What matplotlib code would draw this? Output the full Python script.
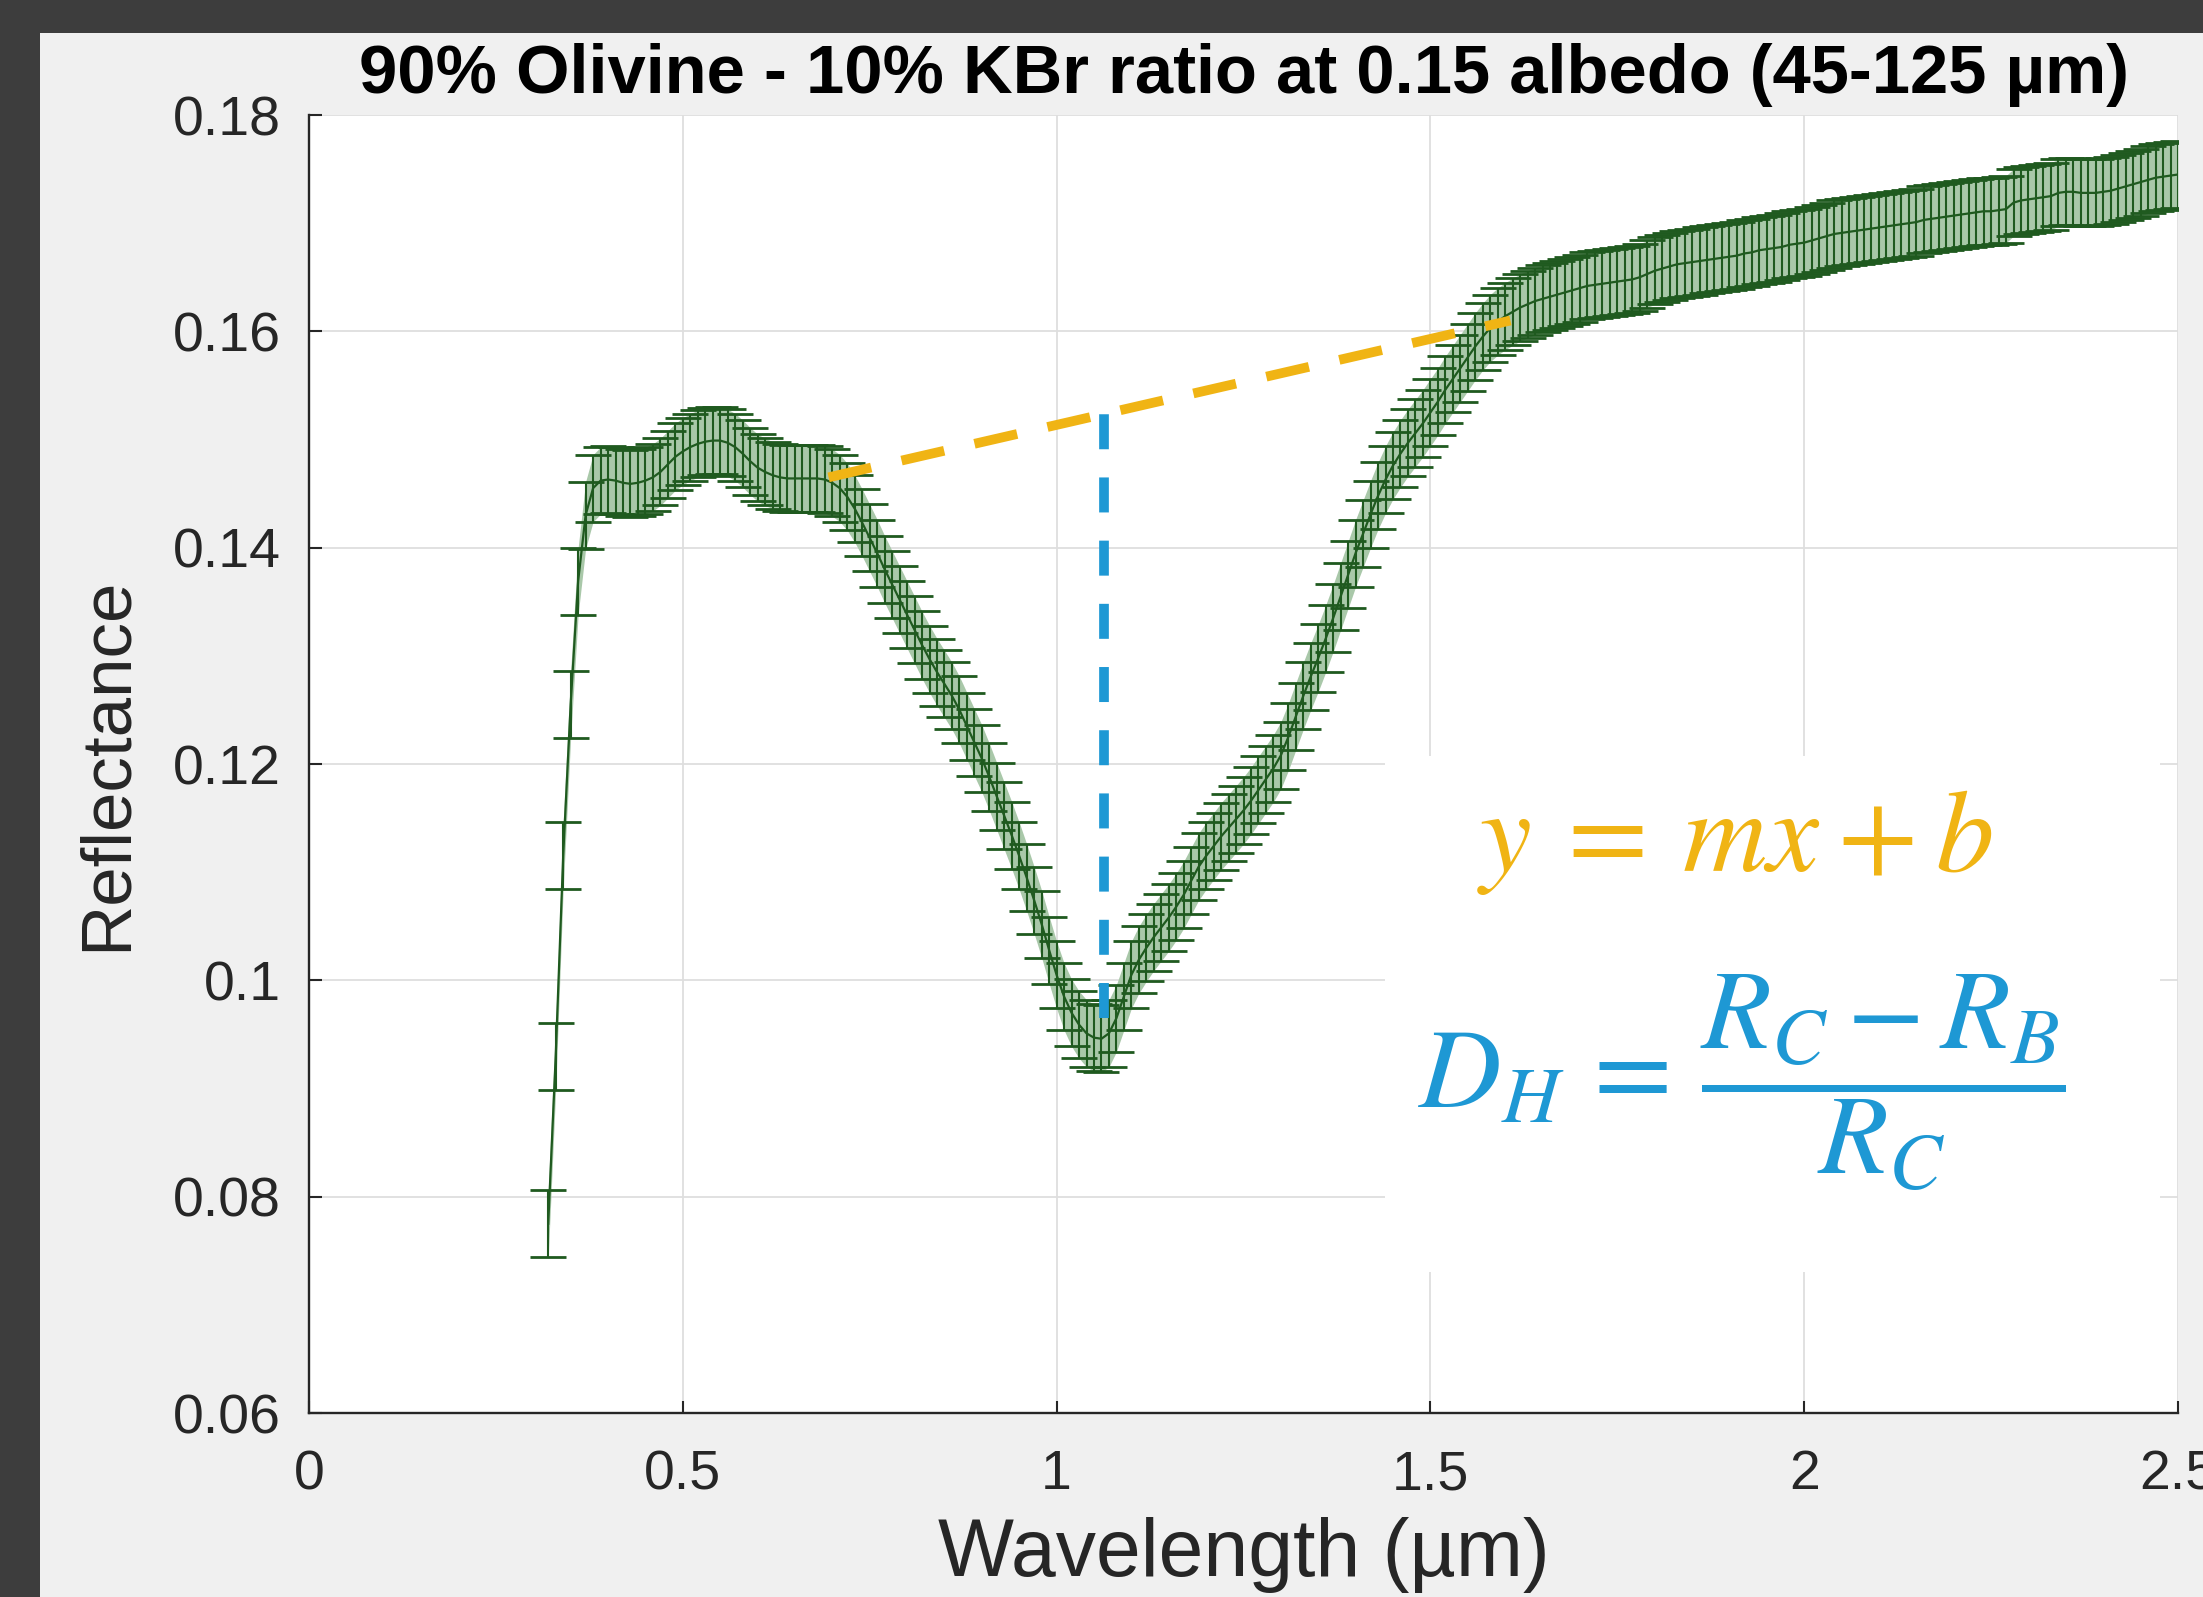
import numpy as np
import matplotlib
matplotlib.use("Agg")
import matplotlib.pyplot as plt
from matplotlib.patches import Rectangle

# ---------------- data ----------------
wl_start, wl_stop, wl_step = 0.32, 2.50, 0.01
wavelength = np.round(np.arange(wl_start, wl_stop + wl_step / 2, wl_step), 2)

reflectance = [
    0.0775, 0.0930, 0.1115, 0.1255, 0.1369, 0.1430, 0.1455, 0.1462,   # 0.32-0.39
    0.1463, 0.1462, 0.1460, 0.1459, 0.1460, 0.1462, 0.1465, 0.1470, 0.1477, 0.1484,  # 0.40-0.49
    0.1489, 0.1493, 0.1496, 0.1498, 0.1499, 0.1499, 0.1497, 0.1493, 0.1487, 0.1480,  # 0.50-0.59
    0.1474, 0.1470, 0.1467, 0.1465, 0.1464, 0.1464, 0.1464, 0.1464, 0.1464, 0.1463,  # 0.60-0.69
    0.1460, 0.1455, 0.1447, 0.1436, 0.1423, 0.1409, 0.1395, 0.1380, 0.1366, 0.1352,  # 0.70-0.79
    0.1338, 0.1324, 0.1310, 0.1297, 0.1285, 0.1274, 0.1263, 0.1250, 0.1235, 0.1220,  # 0.80-0.89
    0.1205, 0.1188, 0.1170, 0.1152, 0.1134, 0.1115, 0.1095, 0.1074, 0.1052, 0.1028,  # 0.90-0.99
    0.1005, 0.0985, 0.0970, 0.0959, 0.0951, 0.0947, 0.0946, 0.0951, 0.0965, 0.0985,  # 1.00-1.09
    0.1005, 0.1019, 0.1030, 0.1040, 0.1049, 0.1058, 0.1068, 0.1079, 0.1092, 0.1105,  # 1.10-1.19
    0.1115, 0.1124, 0.1133, 0.1141, 0.1149, 0.1157, 0.1166, 0.1176, 0.1186, 0.1196,  # 1.20-1.29
    0.1208, 0.1225, 0.1244, 0.1263, 0.1281, 0.1298, 0.1316, 0.1335, 0.1355, 0.1375,  # 1.30-1.39
    0.1395, 0.1413, 0.1431, 0.1448, 0.1463, 0.1476, 0.1487, 0.1497, 0.1506, 0.1515,  # 1.40-1.49
    0.1525, 0.1535, 0.1546, 0.1556, 0.1566, 0.1576, 0.1586, 0.1595, 0.1603, 0.1609,  # 1.50-1.59
    0.1614, 0.1618, 0.1622, 0.1625, 0.1628, 0.1630, 0.1632, 0.1634, 0.1636, 0.1638,  # 1.60-1.69
    0.1640, 0.1642, 0.1643, 0.1644, 0.1645, 0.1646, 0.1647, 0.1648, 0.1650, 0.1653,  # 1.70-1.79
    0.1656, 0.1658, 0.1660, 0.1662, 0.1663, 0.1664, 0.1665, 0.1666, 0.1667, 0.1668,  # 1.80-1.89
    0.1669, 0.1670, 0.1672, 0.1673, 0.1675, 0.1676, 0.1677, 0.1678, 0.1680, 0.1681,  # 1.90-1.99
    0.1682, 0.1684, 0.1686, 0.1688, 0.1690, 0.1691, 0.1692, 0.1693, 0.1694, 0.1695,  # 2.00-2.09
    0.1696, 0.1697, 0.1698, 0.1699, 0.1700, 0.1701, 0.1703, 0.1704, 0.1705, 0.1706,  # 2.10-2.19
    0.1707, 0.1708, 0.1709, 0.1710, 0.1711, 0.1711, 0.1712, 0.1713, 0.1719, 0.1721,  # 2.20-2.29
    0.1722, 0.1723, 0.1724, 0.1725, 0.1728, 0.1729, 0.1729, 0.1728, 0.1728, 0.1728,  # 2.30-2.39
    0.1729, 0.1730, 0.1732, 0.1734, 0.1736, 0.1738, 0.1740, 0.1742, 0.1743, 0.1744,  # 2.40-2.49
    0.1745,                                                                          # 2.50
]
reflectance_err = 0.0031

continuum_x = [0.695, 1.607]
continuum_y = [0.1465, 0.1610]
band_center_x = 1.064
band_min_y = 0.0965

x_ticks = [0, 0.5, 1, 1.5, 2, 2.5]
x_tick_labels = ["0", "0.5", "1", "1.5", "2", "2.5"]
y_ticks = [0.06, 0.08, 0.10, 0.12, 0.14, 0.16, 0.18]
y_tick_labels = ["0.06", "0.08", "0.1", "0.12", "0.14", "0.16", "0.18"]

title = "90% Olivine - 10% KBr ratio at 0.15 albedo (45-125 µm)"
x_label = "Wavelength (µm)"
y_label = "Reflectance"

# ---------------- styling ----------------
W, H = 2203, 1597
plt.rcParams["font.family"] = ["Liberation Sans", "DejaVu Sans"]

green = "#1f5a1f"
fill_green = "#a9c8a9"
yellow = "#f0b414"
blue = "#1e98d4"
axis_col = "#262626"

fig = plt.figure(figsize=(W / 100, H / 100), dpi=100, facecolor="#f0f0f0")
fig.add_artist(Rectangle((0, 0), 40 / W, 1, transform=fig.transFigure,
                         facecolor="#3d3d3d", edgecolor="none", zorder=-5))
fig.add_artist(Rectangle((0, 1 - 33 / H), 1, 33 / H, transform=fig.transFigure,
                         facecolor="#3d3d3d", edgecolor="none", zorder=-5))

ax = fig.add_axes([309 / W, 184 / H, 1869 / W, 1298 / H])
ax.set_facecolor("white")
ax.set_xlim(0, 2.5)
ax.set_ylim(0.06, 0.18)
ax.set_axisbelow(True)
ax.grid(True, color="#dedede", linewidth=1.3)
for s in ["top", "right"]:
    ax.spines[s].set_visible(False)
for s in ["left", "bottom"]:
    ax.spines[s].set_color(axis_col)
    ax.spines[s].set_linewidth(1.7)

ax.set_xticks(x_ticks)
ax.set_xticklabels(x_tick_labels)
ax.set_yticks(y_ticks)
ax.set_yticklabels(y_tick_labels)
ax.tick_params(direction="in", length=9, width=1.5, colors=axis_col,
               labelsize=40)
ax.tick_params(axis="y", pad=20)
ax.tick_params(axis="x", pad=26)

# white panel behind the equations (hides the grid there)
ax.add_patch(Rectangle((1.439, 0.0730), 2.476 - 1.439, 0.1207 - 0.0730,
                       facecolor="white", edgecolor="none", zorder=1))

refl = np.array(reflectance)
ax.fill_between(wavelength, refl - reflectance_err, refl + reflectance_err,
                color=fill_green, linewidth=0, zorder=2)
ax.errorbar(wavelength, refl, yerr=reflectance_err, color=green,
            linewidth=1.6, elinewidth=1.5, capsize=13, capthick=2.0, zorder=3)

# continuum line and band depth line
ax.plot(continuum_x, continuum_y, color=yellow, linewidth=7,
        dashes=(4.5, 3.2), zorder=5, solid_capstyle="butt")
cont_at_center = np.interp(band_center_x, continuum_x, continuum_y)
ax.plot([band_center_x, band_center_x], [band_min_y, cont_at_center],
        color=blue, linewidth=7, dashes=(3.6, 2.9), zorder=5)

ax.text(1.907, 0.1127, r"$y\:=\:mx\:+\:b$", color=yellow, fontsize=84,
        ha="center", va="center", math_fontfamily="stix", zorder=6)
ax.text(1.917, 0.0905, r"$D_H\,=\,\dfrac{R_C - R_B}{R_C}$", color=blue,
        fontsize=82, ha="center", va="center", math_fontfamily="stix", zorder=6)

ax.set_title(title, fontsize=49.5, fontweight="bold", color="black", pad=16)
ax.set_xlabel(x_label, fontsize=58, color=axis_col)
ax.set_ylabel(y_label, fontsize=51, color=axis_col)
ax.xaxis.set_label_coords(0.5, -0.080)
ax.yaxis.set_label_coords(-0.090, 0.5)

fig.savefig("out.png", dpi=100, facecolor=fig.get_facecolor())
